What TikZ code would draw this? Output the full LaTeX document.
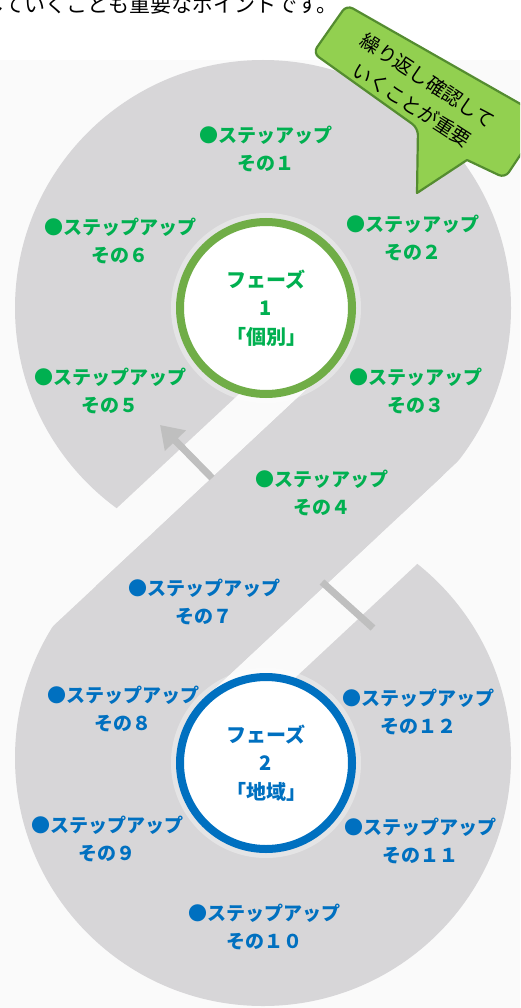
\documentclass[tikz,border=0pt]{standalone}
\usepackage{fontspec}
\newfontfamily\jp{Noto Sans CJK JP}
\usetikzlibrary{arrows.meta}
\definecolor{ribbon}{RGB}{215,214,216}
\definecolor{pagebg}{RGB}{250,250,250}
\definecolor{arrowgray}{RGB}{191,191,191}
\definecolor{stepgreen}{RGB}{0,176,80}
\definecolor{ringgreen}{RGB}{112,173,71}
\definecolor{stepblue}{RGB}{0,112,192}
\definecolor{calloutfill}{RGB}{146,208,80}
\definecolor{calloutdraw}{RGB}{84,140,48}
\tikzset{
  steptxt/.style={align=center, inner sep=0pt, font=\jp\bfseries\fontsize{19}{28.5}\selectfont},
  stepG/.style={steptxt, text=stepgreen},
  stepB/.style={steptxt, text=stepblue},
  phase/.style={circle, minimum size=172pt, inner sep=0pt, line width=8pt, fill=white, align=center,
                font=\jp\bfseries\fontsize{20}{28.5}\selectfont},
  halo/.style={fill=white, opacity=0.35},
  gaparea/.style={fill=pagebg},
  arrowline/.style={draw=arrowgray, line width=7pt},
}
\begin{document}
\begin{tikzpicture}[x=1pt,y=-1pt]
\useasboundingbox (0,0) rectangle (520,1008);
\fill[white] (0,0) rectangle (520,1008);
\fill[pagebg] (0,60) rectangle (520,1008);
\begin{scope}
\clip (0,0) rectangle (520,1008);
% ribbon loops
\fill[ribbon] (263,308) circle[radius=248];
\fill[ribbon] (263,758) circle[radius=248];
% gaps where the band crosses
\fill[gaparea] (296.5,340.6) -- (325.5,371.7) -- (-101.7,770.3) -- (-130.7,739.2) -- cycle;
\fill[gaparea] (205.0,697.4) -- (237.1,731.8) -- (767.8,236.7) -- (735.7,202.4) -- cycle;
% crossing band
\fill[ribbon] (95.7,586.2) -- (336.9,361.1) -- (443.3,475.2) -- (202.1,700.3) -- cycle;
% arrows
\coordinate (a1s) at (212,478);
\coordinate (a1e) at (160,425);
\coordinate (a2s) at (322,582);
\coordinate (a2e) at (373,628);
\draw[arrowline, -{Triangle[length=22pt,width=28pt]}] (a1s) -- (a1e);
\draw[arrowline] (a2s) -- (a2e);
% halos
\fill[halo] (266,308) circle[radius=95];
\fill[halo] (266,763) circle[radius=95];
% phase circles
\node[phase, draw=ringgreen, text=stepgreen] (p1) at (266,308) {フェーズ\\1\\「個別」};
\node[phase, draw=stepblue, text=stepblue] (p2) at (266,763) {フェーズ\\2\\「地域」};
% steps
\node[stepG] (s1) at (266,149) {●ステッアップ\\その１};
\node[stepG] (s2) at (413,238) {●ステッアップ\\その２};
\node[stepG] (s3) at (416,391) {●ステッアップ\\その３};
\node[stepG] (s4) at (322,493) {●ステッアップ\\その４};
\node[stepG] (s5) at (110,391) {●ステップアップ\\その５};
\node[stepG] (s6) at (120,241) {●ステップアップ\\その６};
\node[stepB] (s7) at (204,602) {●ステップアップ\\その７};
\node[stepB] (s8) at (123,709) {●ステップアップ\\その８};
\node[stepB] (s9) at (107,839) {●ステップアップ\\その９};
\node[stepB] (s10) at (264,927) {●ステップアップ\\その１０};
\node[stepB] (s11) at (420,841) {●ステップアップ\\その１１};
\node[stepB] (s12) at (418,712) {●ステップアップ\\その１２};
% callout
\coordinate (cTL) at (346.7,5);
\coordinate (cBL) at (313,53);
\coordinate (cP1) at (418,128);
\coordinate (cTip) at (417,193);
\coordinate (cP2) at (467,160);
\coordinate (cBR) at (505,178);
\coordinate (cTR) at (545,118);
\coordinate (cM) at (329.8,29);
\draw[fill=calloutfill, draw=calloutdraw, line width=2.2pt, line join=round]
  (cM) [rounded corners=7pt] -- (cBL) -- (cP1) [sharp corners] -- (cTip) -- (cP2)
  [rounded corners=7pt] -- (cBR) -- (cTR) -- (cTL) -- cycle;
\node[rotate=-33, align=center, inner sep=0pt, font=\jp\fontsize{19.5}{29}\selectfont] (ctext) at (420,93)
  {繰り返し確認して\\いくことが重要};
% top text line
\node[anchor=base west, inner sep=0pt, font=\jp\fontsize{21}{24}\selectfont] (toptext) at (-17,13)
  {していくことも重要なポイントです。};
\end{scope}
\end{tikzpicture}
\end{document}
